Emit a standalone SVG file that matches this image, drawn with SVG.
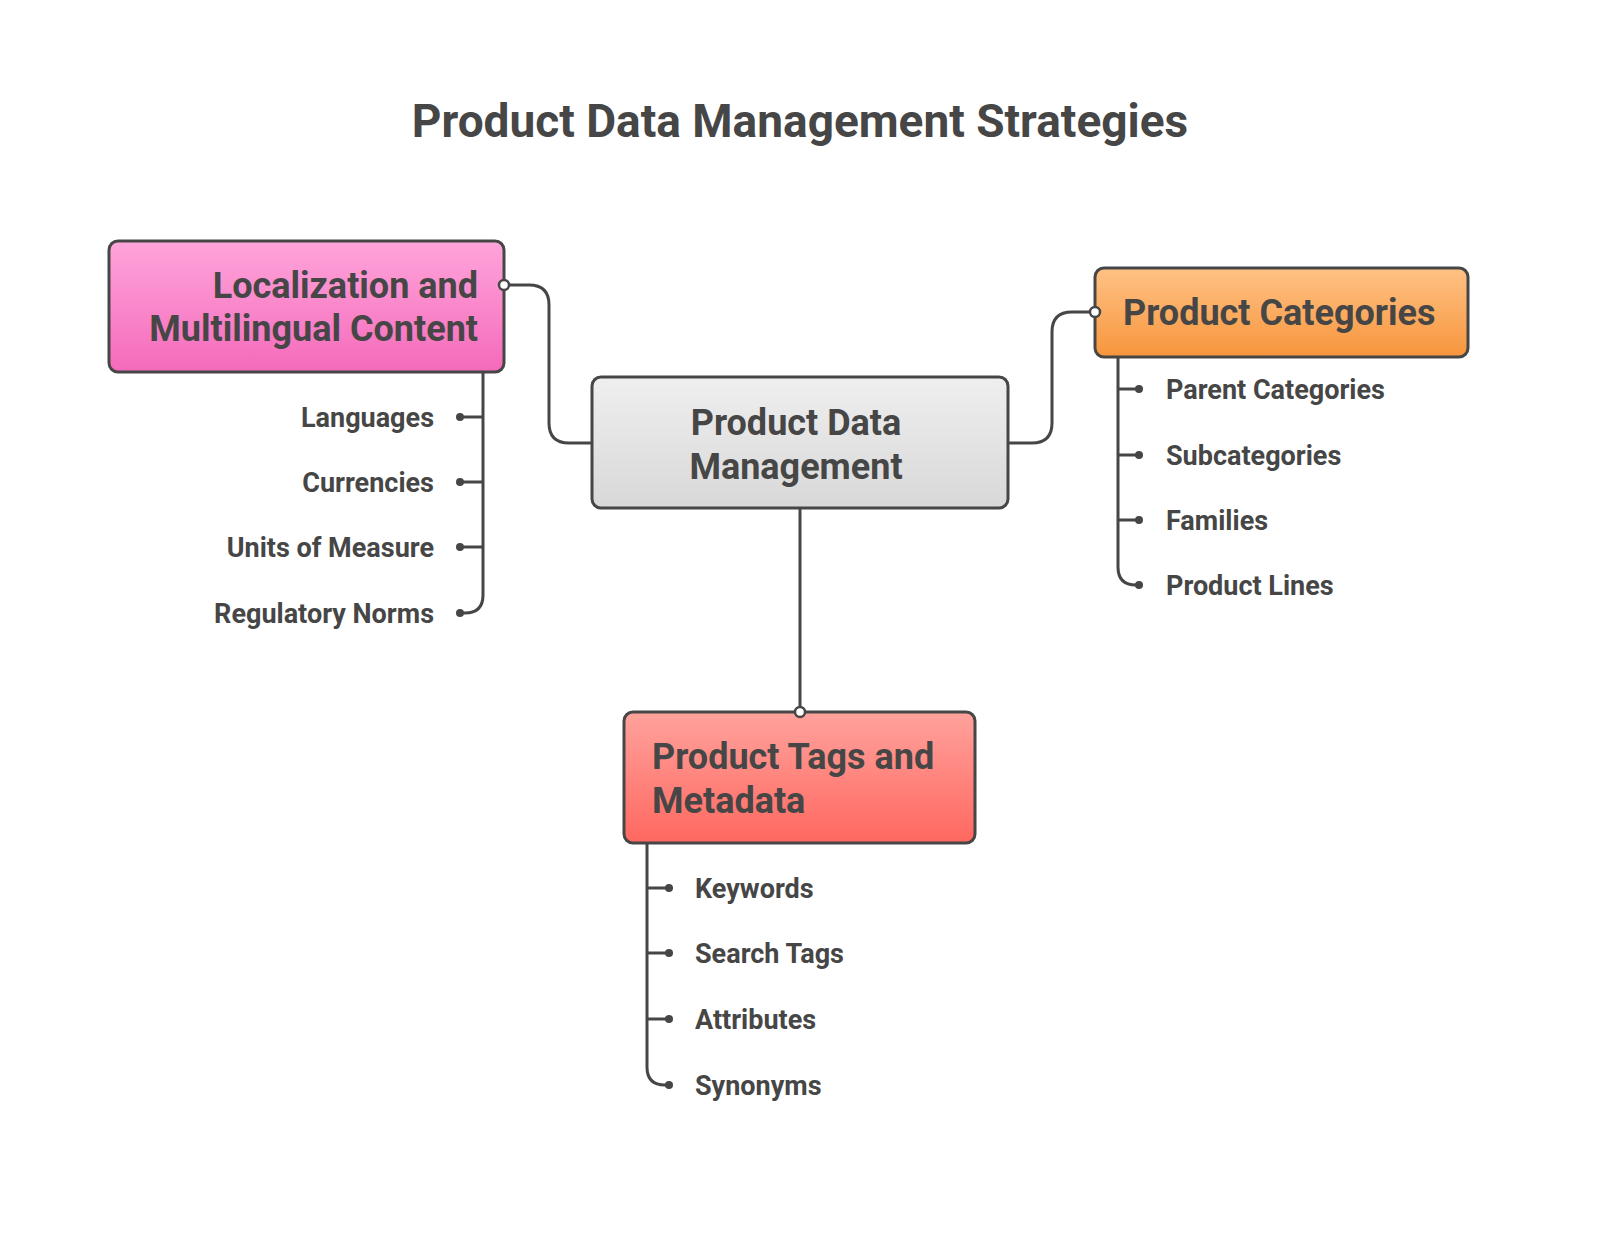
<svg xmlns="http://www.w3.org/2000/svg" width="1600" height="1249" viewBox="0 0 1600 1249">
<defs>
<linearGradient id="gPink" x1="0" y1="0" x2="0" y2="1"><stop offset="0" stop-color="#FFA5DB"/><stop offset="1" stop-color="#F46ABA"/></linearGradient>
<linearGradient id="gGray" x1="0" y1="0" x2="0" y2="1"><stop offset="0" stop-color="#EFEFEF"/><stop offset="1" stop-color="#D8D8D8"/></linearGradient>
<linearGradient id="gOrange" x1="0" y1="0" x2="0" y2="1"><stop offset="0" stop-color="#FFC285"/><stop offset="1" stop-color="#F7953C"/></linearGradient>
<linearGradient id="gRed" x1="0" y1="0" x2="0" y2="1"><stop offset="0" stop-color="#FFA29C"/><stop offset="1" stop-color="#FF6860"/></linearGradient>
<style>
.box{stroke:#464646;stroke-width:3}
.t{font-family:Roboto,"Liberation Sans",sans-serif;font-weight:700;fill:#464646}
.title{font-size:46px}
.big{font-size:36px}
.leaf{font-size:27px}
.ln{fill:none;stroke:#464646;stroke-width:3}
.dot{fill:#464646}
.open{fill:#fff;stroke:#464646;stroke-width:2.5}
</style>
</defs>
<rect width="1600" height="1249" fill="#fff"/>
<text class="t title" x="800" y="137" text-anchor="middle">Product Data Management Strategies</text>

<g id="connectors">
<path class="ln" d="M504,285 H529 Q549,285 549,305 V423 Q549,443 569,443 H592"/>
<path class="ln" d="M1008,443 H1032 Q1052,443 1052,423 V332 Q1052,312 1072,312 H1095"/>
<path class="ln" d="M800,508 V712"/>
<path class="ln" d="M483,373 V595 Q483,613 465,613 H460 M483,417 H460 M483,482 H460 M483,547 H460"/>
<path class="ln" d="M1118,357 V567 Q1118,585 1136,585 H1139 M1118,389 H1139 M1118,455 H1139 M1118,520 H1139"/>
<path class="ln" d="M647,843 V1067 Q647,1085 665,1085 H669 M647,888 H669 M647,953 H669 M647,1019 H669"/>
<circle class="dot" cx="460" cy="417" r="4"/><circle class="dot" cx="460" cy="482" r="4"/><circle class="dot" cx="460" cy="547" r="4"/><circle class="dot" cx="460" cy="613" r="4"/>
<circle class="dot" cx="1139" cy="389" r="4"/><circle class="dot" cx="1139" cy="455" r="4"/><circle class="dot" cx="1139" cy="520" r="4"/><circle class="dot" cx="1139" cy="585" r="4"/>
<circle class="dot" cx="669" cy="888" r="4"/><circle class="dot" cx="669" cy="953" r="4"/><circle class="dot" cx="669" cy="1019" r="4"/><circle class="dot" cx="669" cy="1085" r="4"/>
</g>

<g id="node-center">
<rect class="box" x="592" y="377" width="416" height="131" rx="9" fill="url(#gGray)"/>
<text class="t big" x="796" y="435" text-anchor="middle">Product Data</text>
<text class="t big" x="796" y="479" text-anchor="middle">Management</text>
</g>

<g id="node-localization">
<rect class="box" x="109" y="241" width="395" height="131" rx="9" fill="url(#gPink)"/>
<text class="t big" x="478" y="298" text-anchor="end">Localization and</text>
<text class="t big" x="478" y="341" text-anchor="end">Multilingual Content</text>
<circle class="open" cx="504" cy="285" r="5"/>
</g>

<g id="node-categories">
<rect class="box" x="1095" y="268" width="373" height="89" rx="9" fill="url(#gOrange)"/>
<text class="t big" x="1123" y="325">Product Categories</text>
<circle class="open" cx="1095" cy="312" r="5"/>
</g>

<g id="node-tags">
<rect class="box" x="624" y="712" width="351" height="131" rx="9" fill="url(#gRed)"/>
<text class="t big" x="652" y="769">Product Tags and</text>
<text class="t big" x="652" y="813">Metadata</text>
<circle class="open" cx="800" cy="712" r="5"/>
</g>

<g id="leaves-localization">
<text class="t leaf" x="434" y="427" text-anchor="end">Languages</text>
<text class="t leaf" x="434" y="492" text-anchor="end">Currencies</text>
<text class="t leaf" x="434" y="557" text-anchor="end">Units of Measure</text>
<text class="t leaf" x="434" y="623" text-anchor="end">Regulatory Norms</text>
</g>
<g id="leaves-categories">
<text class="t leaf" x="1166" y="399">Parent Categories</text>
<text class="t leaf" x="1166" y="465">Subcategories</text>
<text class="t leaf" x="1166" y="530">Families</text>
<text class="t leaf" x="1166" y="595">Product Lines</text>
</g>
<g id="leaves-tags">
<text class="t leaf" x="695" y="898">Keywords</text>
<text class="t leaf" x="695" y="963">Search Tags</text>
<text class="t leaf" x="695" y="1029">Attributes</text>
<text class="t leaf" x="695" y="1095">Synonyms</text>
</g>
</svg>
